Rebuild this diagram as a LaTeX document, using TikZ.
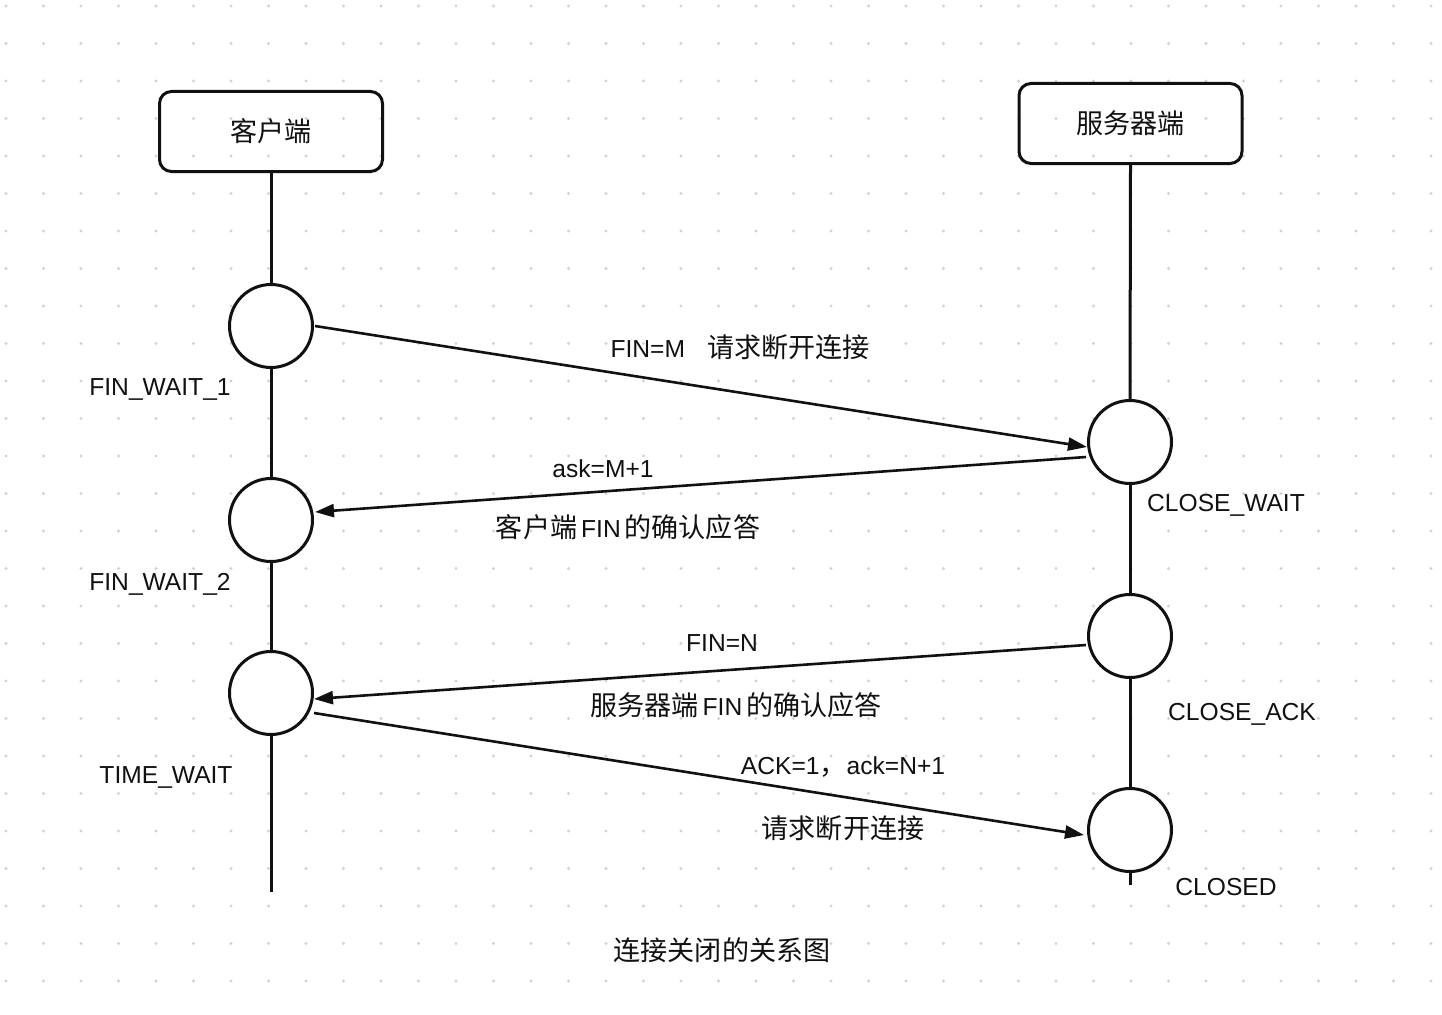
\documentclass[tikz,border=0pt]{standalone}
\usepackage{fontspec}
\setmainfont{Liberation Sans}
\newfontfamily\cjk[Scale=1.1]{Noto Sans CJK SC}
\usetikzlibrary{arrows.meta}
\definecolor{ink}{HTML}{111111}
\definecolor{griddot}{HTML}{D2D2D2}
\newcommand{\cgap}{\hspace{4pt}}
\begin{document}
\begin{tikzpicture}[x=1pt,y=-1pt,
  every node/.style={text=ink,font=\fontsize{24.6}{28}\selectfont},
  endpoint/.style={draw=ink,line width=3pt,rounded corners=12pt,minimum width=223pt,minimum height=80pt,inner sep=0pt},
  state/.style={draw=ink,line width=3pt,circle,minimum size=83pt,inner sep=0pt,fill=white},
  life/.style={draw=ink,line width=3pt},
  msg/.style={draw=ink,line width=2.6pt,-{Triangle[length=19pt,width=13pt]}},
  lbl/.style={inner sep=0pt,anchor=center}]
% page and dotted grid
\useasboundingbox (0,0) rectangle (1442,1014);
\fill[white] (0,0) rectangle (1442,1014);
\foreach \i in {0,...,38}{
  \foreach \j in {0,...,26}{
    \fill[griddot] ({6+37.5*\i},{6+37.5*\j}) circle (1.7pt);
  }
}
% the two endpoints
\node[endpoint] (client) at (271,131.5) {\cjk 客户端};
\node[endpoint] (server) at (1130.5,123.5) {\cjk 服务器端};
% state circles
\node[state] (c1) at (271,326) {};
\node[state] (c2) at (271,520) {};
\node[state] (c3) at (271,693) {};
\node[state] (s1) at (1130,442) {};
\node[state] (s2) at (1130,636) {};
\node[state] (s3) at (1130,830) {};
\coordinate (cend) at (271,892);
\coordinate (send) at (1130,885);
% lifelines
\draw[life] (client.south) -- (c1.north);
\draw[life] (c1.south) -- (c2.north);
\draw[life] (c2.south) -- (c3.north);
\draw[life] (c3.south) -- (cend);
\draw[life] (server.south) -- (s1.north);
\draw[life] (s1.south) -- (s2.north);
\draw[life] (s2.south) -- (s3.north);
\draw[life] (s3.south) -- (send);
% messages
\draw[msg] ([xshift=1pt]c1.east) -- ([yshift=-5pt]s1.west);
\draw[msg] ([xshift=-1pt,yshift=-15pt]s1.west) -- ([xshift=1pt,yshift=8pt]c2.east);
\draw[msg] ([xshift=-1pt,yshift=-9pt]s2.west) -- ([yshift=-6pt]c3.east);
\draw[msg] ([yshift=-20pt]c3.east) -- ([xshift=-3pt,yshift=-5pt]s3.west);
% message labels
\node[lbl] (m1) at (740,347) {FIN=M\hspace{22pt}{\cjk 请求断开连接}};
\node[lbl] (m2a) at (603,469) {ask=M+1};
\node[lbl] (m2b) at (628,527) {{\cjk 客户端}\cgap FIN\cgap{\cjk 的确认应答}};
\node[lbl] (m3a) at (722,643) {FIN=N};
\node[lbl] (m3b) at (736,705) {{\cjk 服务器端}\cgap FIN\cgap{\cjk 的确认应答}};
\node[lbl] (m4a) at (843,767) {ACK=1{\cjk ，}ack=N+1};
\node[lbl] (m4b) at (843,828) {\cjk 请求断开连接};
% state labels
\node[lbl] (l1) at (160,389) {FIN\_WAIT\_1};
\node[lbl] (l2) at (160,584) {FIN\_WAIT\_2};
\node[lbl] (l3) at (166,777) {TIME\_WAIT};
\node[lbl] (r1) at (1226,505) {CLOSE\_WAIT};
\node[lbl] (r2) at (1242,714) {CLOSE\_ACK};
\node[lbl] (r3) at (1226,887) {CLOSED};
% caption
\node[lbl] (title) at (722,950) {\cjk 连接关闭的关系图};
\end{tikzpicture}
\end{document}
